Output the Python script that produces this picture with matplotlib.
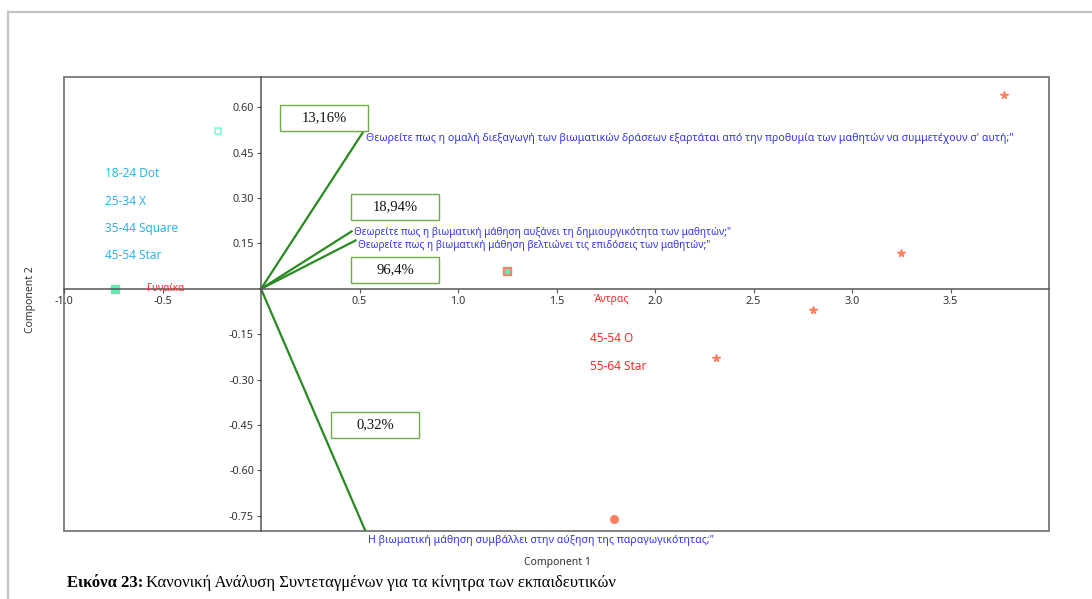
"""
Biplot: canonical correspondence analysis of teacher motivation items.
"""

import matplotlib
matplotlib.use("Agg")
import matplotlib.pyplot as plt
from matplotlib.lines import Line2D
from matplotlib.patches import Rectangle

plt.rcParams["font.family"] = ["Noto Sans", "DejaVu Sans"]

# question vectors (component 1, component 2)
vec_x = [0.52, 0.46, 0.48, 0.53]
vec_y = [0.52, 0.19, 0.16, -0.80]
vec_labels = [
    "Θεωρείτε πως η ομαλή διεξαγωγή των βιωματικών δράσεων εξαρτάται από την προθυμία των μαθητών να συμμετέχουν σ' αυτή;\"",
    "Θεωρείτε πως η βιωματική μάθηση αυξάνει τη δημιουργικότητα των μαθητών;\"",
    "Θεωρείτε πως η βιωματική μάθηση βελτιώνει τις επιδόσεις των μαθητών;\"",
    "Η βιωματική μάθηση συμβάλλει στην αύξηση της παραγωγικότητας;\"",
]
vec_offsets = [(2, -5), (2, -1), (2, -3.5), (2, -7)]
vec_fontsizes = [7.6, 7.2, 7.2, 7.6]

# explained-variance boxes
pct_labels = ["13,16%", "18,94%", "96,4%", "0,32%"]
pct_x = [0.32, 0.68, 0.68, 0.58]
pct_y = [0.564, 0.27, 0.063, -0.449]

# sample scores
fem_open_x, fem_open_y = [-0.22], [0.52]
fem_fill_x, fem_fill_y = [-0.74], [0.0]
mix_x, mix_y = [1.25], [0.06]
male_star_x = [3.77, 3.25, 2.80, 2.31]
male_star_y = [0.64, 0.12, -0.07, -0.23]
male_dot_x, male_dot_y = [1.79], [-0.76]

age_fem = ["18-24 Dot", "25-34 X", "35-44 Square", "45-54 Star"]
age_male = ["45-54 O", "55-64 Star"]

x_ticks = [-1.0, -0.5, 0.5, 1.0, 1.5, 2.0, 2.5, 3.0, 3.5]
y_ticks = [0.60, 0.45, 0.30, 0.15, -0.15, -0.30, -0.45, -0.60, -0.75]

GREEN = "#2a8a22"
BLUE = "#3434f0"
CYAN = "#2ab4ea"
RED = "#ff2a2a"
ORANGE = "#ff8060"
BOX_W, BOX_H = 0.447, 0.086

fig = plt.figure(figsize=(10.92, 5.99), dpi=100)
ax = fig.add_axes([64 / 1092, 1 - 531 / 599, 985 / 1092, 454 / 599])
ax.set_xlim(-1.0, 4.0)
ax.set_ylim(-0.80, 0.70)

# axes through the origin + outer box
for side in ("top", "right"):
    ax.spines[side].set_visible(False)
ax.spines["left"].set_position(("data", 0))
ax.spines["bottom"].set_position(("data", 0))
for side in ("left", "bottom"):
    ax.spines[side].set_color("#555555")
    ax.spines[side].set_linewidth(1.1)
ax.add_patch(Rectangle((0, 0), 1, 1, transform=ax.transAxes, fill=False,
                       ec="#777777", lw=1.3, clip_on=False, zorder=0))

ax.set_xticks(x_ticks)
ax.set_yticks(y_ticks)
ax.set_xticklabels([f"{v:.1f}" for v in x_ticks])
ax.set_yticklabels([f"{v:.2f}" for v in y_ticks])
ax.tick_params(direction="out", length=3, width=0.8, color="#555555",
               labelsize=7.8, labelcolor="#333333", pad=2)

# vectors and their labels
for vx, vy, lab, off, fs in zip(vec_x, vec_y, vec_labels, vec_offsets, vec_fontsizes):
    ax.plot([0, vx], [0, vy], color=GREEN, lw=1.6, zorder=2)
    ax.annotate(lab, (vx, vy), xytext=off, textcoords="offset points",
                ha="left", va="center", fontsize=fs, color=BLUE,
                annotation_clip=False)

for lab, px, py in zip(pct_labels, pct_x, pct_y):
    ax.add_patch(Rectangle((px - BOX_W / 2, py - BOX_H / 2), BOX_W, BOX_H,
                           fc="white", ec="#70ad47", lw=1.0, zorder=4))
    ax.text(px, py, lab, ha="center", va="center", fontsize=10.5,
            family="Liberation Serif", color="#111111", zorder=5)

# markers
ax.plot(fem_open_x, fem_open_y, "s", ms=5, mfc="none", mec="#7fffd4", mew=1.2)
ax.plot(fem_fill_x, fem_fill_y, "s", ms=5.5, color="#66e8b4", mec="#66e8b4")
ax.plot(mix_x, mix_y, "s", ms=6, color=ORANGE, mec=ORANGE)
ax.plot(mix_x, mix_y, "s", ms=2.5, color="#66e8b4", mec="#66e8b4")
ax.plot(male_star_x, male_star_y, "*", ms=5.5, color=ORANGE, mec=ORANGE)
ax.plot(male_dot_x, male_dot_y, "o", ms=5.5, color=ORANGE, mec=ORANGE)

ax.text(-0.58, 0.0, "Γυναίκα", fontsize=7.2, color=RED, va="center", ha="left")
ax.text(1.69, -0.035, "Άντρας", fontsize=7.4, color=RED, va="center", ha="left")

for i, lab in enumerate(age_fem):
    ax.text(-0.79, 0.38 - i * 0.09, lab, fontsize=8.5, color=CYAN, va="center")
for i, lab in enumerate(age_male):
    ax.text(1.67, -0.165 - i * 0.09, lab, fontsize=8.5, color=RED, va="center")

fig.text(558 / 1092, 1 - 562 / 599, "Component 1", fontsize=7.5,
         color="#333333", ha="center", va="center")
fig.text(30 / 1092, 1 - 300 / 599, "Component 2", fontsize=7.5,
         color="#333333", ha="center", va="center", rotation=90)

# page frame
fig.add_artist(Line2D([8 / 1092, 1], [1 - 12 / 599] * 2, color="#c4c4c4", lw=1.6))
fig.add_artist(Line2D([8 / 1092] * 2, [0, 1 - 12 / 599], color="#c4c4c4", lw=1.6))

# caption with bold prefix
cap_y = 1 - 583 / 599
bold = fig.text(67 / 1092, cap_y, "Εικόνα 23:", fontsize=12, weight="bold",
                family="Liberation Serif", va="center", ha="left")
fig.canvas.draw()
bb = bold.get_window_extent(fig.canvas.get_renderer())
fig.text(bb.x1 / 1092 + 3 / 1092, cap_y,
         "Κανονική Ανάλυση Συντεταγμένων για τα κίνητρα των εκπαιδευτικών",
         fontsize=12, family="Liberation Serif", va="center", ha="left")

fig.savefig("out.png", dpi=100)
